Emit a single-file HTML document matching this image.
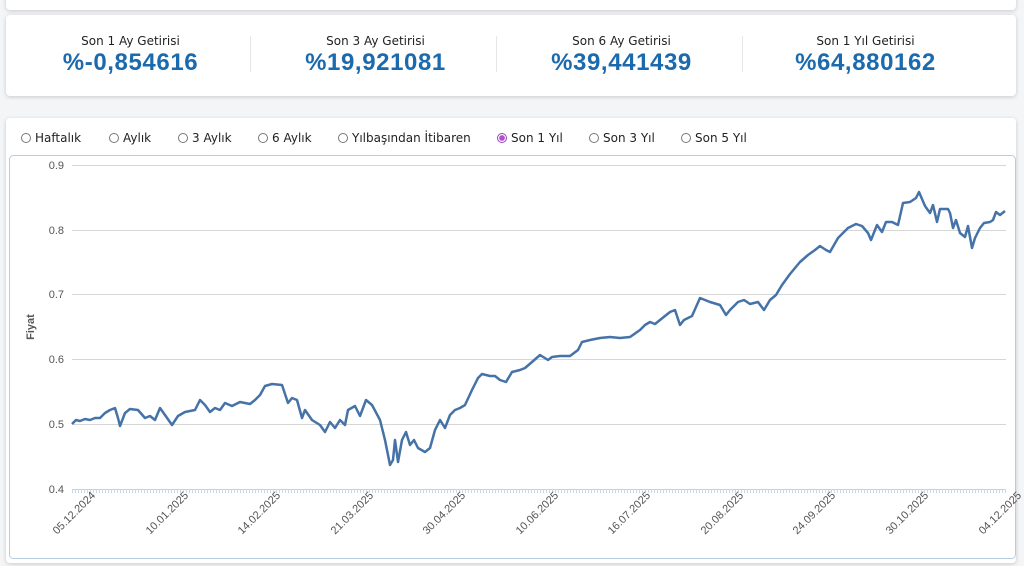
<!DOCTYPE html>
<html><head><meta charset="utf-8"><style>
body{margin:0;width:1024px;height:566px;background:#f4f5f7;font-family:"DejaVu Sans","Liberation Sans",sans-serif;overflow:hidden;position:relative}
.card{position:absolute;background:#fff;border-radius:4px;box-shadow:0 1px 4px rgba(0,0,0,.18)}
.stat{position:absolute;top:34px;width:245px;text-align:center}
.stat .l{font-size:12px;color:#222}
.stat .v{font-family:"Liberation Sans",sans-serif;font-size:24px;font-weight:bold;color:#1a6aad;letter-spacing:0.6px;margin-top:1px}
.sep{position:absolute;top:36px;width:1px;height:36px;background:#e6e6e6}
.rad{position:absolute;top:131px;font-size:12px;color:#222}
.rad i{display:inline-block;width:10px;height:10px;border:1px solid #777;border-radius:50%;vertical-align:-1px;margin-right:4px;box-sizing:border-box}
</style></head><body>
<div class="card" style="left:6px;top:-10px;width:1010px;height:20px"></div>
<div class="card" style="left:6px;top:15px;width:1010px;height:81px"></div>
<div class="stat" style="left:8px"><div class="l">Son 1 Ay Getirisi</div><div class="v">%-0,854616</div></div>
<div class="sep" style="left:250px"></div>
<div class="stat" style="left:253px"><div class="l">Son 3 Ay Getirisi</div><div class="v">%19,921081</div></div>
<div class="sep" style="left:496px"></div>
<div class="stat" style="left:499px"><div class="l">Son 6 Ay Getirisi</div><div class="v">%39,441439</div></div>
<div class="sep" style="left:742px"></div>
<div class="stat" style="left:743px"><div class="l">Son 1 Yıl Getirisi</div><div class="v">%64,880162</div></div>
<div class="card" style="left:6px;top:118px;width:1010px;height:445px"></div>
<div class="rad" style="left:21px"><i></i>Haftalık</div>
<div class="rad" style="left:109px"><i></i>Aylık</div>
<div class="rad" style="left:178px"><i></i>3 Aylık</div>
<div class="rad" style="left:258px"><i></i>6 Aylık</div>
<div class="rad" style="left:338px"><i></i>Yılbaşından İtibaren</div>
<div class="rad" style="left:497px"><i style="border-color:#a040c0;background:radial-gradient(#b050d0 45%,#fff 55%)"></i>Son 1 Yıl</div>
<div class="rad" style="left:589px"><i></i>Son 3 Yıl</div>
<div class="rad" style="left:681px"><i></i>Son 5 Yıl</div>
<svg style="position:absolute;left:0;top:0" width="1024" height="566">
<rect x="9.5" y="155.5" width="1006" height="403" rx="4" fill="#fff" stroke="#b8cce0"/>
<g stroke="#d6d6d6" stroke-width="1">
<line x1="72" x2="1006" y1="165.5" y2="165.5"/><line x1="72" x2="1006" y1="230.5" y2="230.5"/>
<line x1="72" x2="1006" y1="294.5" y2="294.5"/><line x1="72" x2="1006" y1="359.5" y2="359.5"/>
<line x1="72" x2="1006" y1="424.5" y2="424.5"/><line x1="72" x2="1006" y1="489.5" y2="489.5" stroke="#c0d0e0"/>
</g>
<line x1="72" x2="1006" y1="491" y2="491" stroke="#c8d8ea" stroke-width="4" stroke-dasharray="1 2"/>
<g font-size="11" fill="#555" text-anchor="end" font-family="Liberation Sans,sans-serif">
<text x="64" y="169">0.9</text><text x="64" y="234">0.8</text><text x="64" y="298">0.7</text><text x="64" y="363">0.6</text><text x="64" y="428">0.5</text><text x="64" y="493">0.4</text>
</g>
<text transform="translate(34,327) rotate(-90)" font-size="11" font-weight="bold" fill="#555" text-anchor="middle" font-family="Liberation Sans,sans-serif">Fiyat</text>
<g font-size="11" fill="#555" text-anchor="end" font-family="Liberation Sans,sans-serif">
<text transform="translate(96,496) rotate(-45)">05.12.2024</text>
<text transform="translate(189,496) rotate(-45)">10.01.2025</text>
<text transform="translate(281,496) rotate(-45)">14.02.2025</text>
<text transform="translate(374,496) rotate(-45)">21.03.2025</text>
<text transform="translate(466,496) rotate(-45)">30.04.2025</text>
<text transform="translate(559,496) rotate(-45)">10.06.2025</text>
<text transform="translate(651,496) rotate(-45)">16.07.2025</text>
<text transform="translate(744,496) rotate(-45)">20.08.2025</text>
<text transform="translate(836,496) rotate(-45)">24.09.2025</text>
<text transform="translate(929,496) rotate(-45)">30.10.2025</text>
<text transform="translate(1022,496) rotate(-45)">04.12.2025</text>
</g>
<polyline fill="none" stroke="#4572a7" stroke-width="2.5" stroke-linejoin="round" points="72,424 76,420 80,421 85,419 90,420 95,418 100,418 105,413 110,410 115,408 118,418 120,426 125,413 130,409 138,410 145,418 150,416 155,420 160,408 165,415 172,425 178,416 185,412 195,410 200,400 205,405 210,412 215,408 220,410 225,403 232,406 240,402 250,404 255,400 260,395 265,386 272,384 282,385 288,403 292,398 297,400 302,418 305,410 312,420 320,425 325,432 330,422 335,428 340,420 345,425 348,410 355,406 360,416 366,400 372,405 380,420 385,440 390,465 393,460 395,440 398,462 402,440 406,432 410,445 414,440 418,448 425,452 430,448 435,430 440,420 445,428 450,415 455,410 460,408 465,405 472,390 478,378 482,374 490,376 495,376 500,380 506,382 512,372 520,370 525,368 532,362 540,355 548,360 552,357 560,356 570,356 578,350 582,342 590,340 600,338 610,337 620,338 630,337 640,330 645,325 650,322 655,324 660,320 670,312 675,310 680,325 684,320 688,318 692,316 700,298 705,300 710,302 720,305 726,315 730,310 738,302 744,300 750,304 758,302 764,310 770,300 776,295 782,285 790,274 800,262 808,255 815,250 820,246 826,250 830,252 838,238 848,228 856,224 862,226 868,233 871,240 877,225 882,232 886,222 892,222 898,225 903,203 910,202 916,198 919,192 925,206 930,213 933,205 937,222 940,209 948,209 950,213 953,228 956,220 960,233 965,237 968,226 972,248 975,238 980,228 984,223 990,222 993,220 996,212 1000,215 1005,211"/>
</svg>
</body></html>
